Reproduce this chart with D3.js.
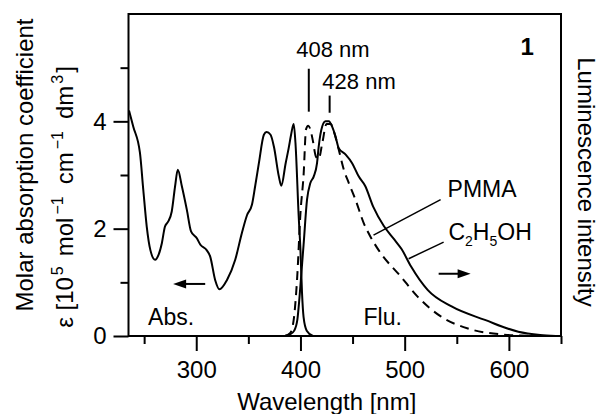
<!DOCTYPE html>
<html>
<head>
<meta charset="utf-8">
<script src="https://cdn.jsdelivr.net/npm/d3@7"></script>
<style>
body { margin: 0; background: #fff; }
svg text { font-family: "Liberation Sans", Arial, sans-serif; fill: #000; }
</style>
</head>
<body>
<svg id="chart" width="601" height="414"></svg>
<script>
// absorption spectrum (left axis, 10^5 mol^-1 cm^-1 dm^3)
var absWl  = [235.5, 239.6, 246, 249.2, 252.5, 256, 260.5, 264, 267, 270, 273, 276.5, 279.7, 282.3, 286.2, 291, 295, 300.6, 304, 310, 313.4, 318.2, 322.3, 329.4, 337.4, 343.8, 348.7, 353.5, 356.6, 360.1, 364.9, 367.5, 371.3, 374.5, 379.3, 381.6, 385.8, 388.7, 391, 393.5, 395.2, 398.3, 400, 401.5, 403, 406, 412];
var absEps = [4.2, 3.9, 3.41, 2.72, 2.04, 1.6, 1.42, 1.52, 1.73, 2.04, 2.13, 2.32, 2.79, 3.1, 2.79, 2.35, 1.95, 1.82, 1.7, 1.6, 1.48, 1.04, 0.87, 1.04, 1.42, 1.92, 2.25, 2.45, 2.8, 3.22, 3.75, 3.8, 3.75, 3.53, 2.97, 2.8, 3.22, 3.5, 3.75, 3.95, 3.6, 2.23, 1.6, 0.8, 0.35, 0.1, 0];

// fluorescence in PMMA (solid)
var pmmaWl  = [385, 390, 394, 397, 399, 401, 403, 406.3, 409.5, 412.7, 415.9, 417.5, 420.8, 424, 427.2, 430.4, 433.6, 436.7, 443.4, 449.6, 456, 462, 470, 480, 490, 497, 506, 522, 545, 577, 609, 630, 645];
var pmmaInt = [0, 0.03, 0.1, 0.3, 0.7, 1.2, 1.7, 2.54, 2.85, 2.97, 3.22, 3.53, 3.9, 4.0, 4.0, 3.9, 3.72, 3.5, 3.38, 3.22, 2.97, 2.8, 2.4, 2.05, 1.8, 1.62, 1.3, 0.86, 0.55, 0.3, 0.08, 0.02, 0];

// fluorescence in C2H5OH (dashed)
var etohWl  = [385, 390, 393.5, 396.7, 400, 403.1, 405.3, 407.5, 409.5, 411.7, 414.9, 417.5, 421, 425, 429, 433, 437, 441.6, 446.4, 452.8, 460.8, 467.2, 475, 496.6, 512.6, 535, 560.7, 592.8, 625];
var etohInt = [0, 0.05, 0.3, 1.04, 2.29, 3.03, 3.85, 3.92, 3.85, 3.66, 3.34, 3.3, 3.6, 3.95, 3.95, 3.75, 3.45, 3.1, 2.85, 2.54, 2.1, 1.85, 1.6, 1.1, 0.73, 0.36, 0.14, 0.03, 0];

var xMajor = [300, 400, 500, 600];
var xMinor = [250, 350, 450, 550, 650];
var yMajor = [0, 2, 4];
var yMinor = [1, 3, 5];

var svg = d3.select("#chart");
var x = d3.scaleLinear().domain([235, 650]).range([128.5, 561]);
var y = d3.scaleLinear().domain([0, 6]).range([336, 14]);

function styleAxis(g) {
	g.select(".domain").remove();
	g.selectAll("line").attr("stroke", "#000").attr("stroke-width", 2);
	g.selectAll("text").attr("font-size", 24).attr("fill", "#000");
	g.attr("font-family", null).attr("font-size", null);
}

// x axis, major + minor
svg.append("g")
	.attr("transform", "translate(0," + y(0) + ")")
	.call(d3.axisBottom(x).tickValues(xMajor).tickSize(15).tickPadding(10).tickFormat(d3.format("d")))
	.call(styleAxis);
svg.append("g")
	.attr("transform", "translate(0," + y(0) + ")")
	.call(d3.axisBottom(x).tickValues(xMinor).tickSize(8).tickFormat(""))
	.call(styleAxis);

// y axis, major + minor
svg.append("g")
	.attr("transform", "translate(" + x(235) + ",0)")
	.call(d3.axisLeft(y).tickValues(yMajor).tickSize(15).tickPadding(7).tickFormat(d3.format("d")))
	.call(styleAxis);
svg.append("g")
	.attr("transform", "translate(" + x(235) + ",0)")
	.call(d3.axisLeft(y).tickValues(yMinor).tickSize(8).tickFormat(""))
	.call(styleAxis);

// frame
svg.append("rect")
	.attr("x", x(235)).attr("y", y(6))
	.attr("width", x(650) - x(235)).attr("height", y(0) - y(6))
	.attr("fill", "none").attr("stroke", "#000").attr("stroke-width", 2);

function series(wl, val) {
	return wl.map(function (d, i) { return [d, val[i]]; });
}

var line = d3.line()
	.x(function (d) { return x(d[0]); })
	.y(function (d) { return y(d[1]); })
	.curve(d3.curveMonotoneX);

svg.append("path").datum(series(absWl, absEps))
	.attr("d", line).attr("fill", "none").attr("stroke", "#000").attr("stroke-width", 2);
svg.append("path").datum(series(etohWl, etohInt))
	.attr("d", line).attr("fill", "none").attr("stroke", "#000").attr("stroke-width", 2)
	.attr("stroke-dasharray", "9,6");
svg.append("path").datum(series(pmmaWl, pmmaInt))
	.attr("d", line).attr("fill", "none").attr("stroke", "#000").attr("stroke-width", 2);

// peak markers
var markers = [
	{ wl: 408, y0: 4.18, y1: 4.98, label: "408 nm", lx: 396, ly: 5.2 },
	{ wl: 428, y0: 4.16, y1: 4.48, label: "428 nm", lx: 421, ly: 4.6 }
];
markers.forEach(function (m) {
	svg.append("line")
		.attr("x1", x(m.wl)).attr("x2", x(m.wl))
		.attr("y1", y(m.y0)).attr("y2", y(m.y1))
		.attr("stroke", "#000").attr("stroke-width", 2);
	svg.append("text")
		.attr("x", x(m.lx)).attr("y", y(m.ly))
		.attr("font-size", 22)
		.text(m.label);
});

// leader lines
var leaders = [
	[534.5, 2.54, 470.1, 1.88],
	[537.4, 1.75, 503.8, 1.44]
];
leaders.forEach(function (l) {
	svg.append("line")
		.attr("x1", x(l[0])).attr("y1", y(l[1]))
		.attr("x2", x(l[2])).attr("y2", y(l[3]))
		.attr("stroke", "#000").attr("stroke-width", 1.5);
});

svg.append("text").attr("x", x(541.2)).attr("y", y(2.59)).attr("font-size", 23).text("PMMA");
var et = svg.append("text").attr("x", x(542)).attr("y", y(1.79)).attr("font-size", 23);
et.append("tspan").text("C");
et.append("tspan").attr("font-size", 14).attr("dy", 6).text("2");
et.append("tspan").attr("dy", -6).text("H");
et.append("tspan").attr("font-size", 14).attr("dy", 6).text("5");
et.append("tspan").attr("dy", -6).text("OH");

svg.append("text").attr("x", x(253.8)).attr("y", y(0.205)).attr("font-size", 23).text("Abs.");
svg.append("text").attr("x", x(460.5)).attr("y", y(0.205)).attr("font-size", 23).text("Flu.");
svg.append("text").attr("x", x(624)).attr("y", y(5.24)).attr("font-size", 24)
	.attr("font-weight", "bold").attr("text-anchor", "end").text("1");

// arrows: [from wl, to wl, level]
var arrows = [
	[308.6, 277.8, 0.97],
	[532.6, 563.3, 1.16]
];
arrows.forEach(function (a) {
	var x0 = x(a[0]), x1 = x(a[1]), yy = y(a[2]);
	var dir = x1 > x0 ? 1 : -1;
	svg.append("line")
		.attr("x1", x0).attr("y1", yy).attr("x2", x1 - dir * 8).attr("y2", yy)
		.attr("stroke", "#000").attr("stroke-width", 2);
	svg.append("path")
		.attr("d", "M" + x1 + "," + yy + "L" + (x1 - dir * 13) + "," + (yy - 4.5) + "L" + (x1 - dir * 13) + "," + (yy + 4.5) + "Z")
		.attr("fill", "#000");
});

// axis titles
svg.append("text")
	.attr("x", (x(235) + x(650)) / 2 - 18).attr("y", 410)
	.attr("text-anchor", "middle").attr("font-size", 24)
	.text("Wavelength [nm]");

svg.append("text")
	.attr("transform", "translate(33,165) rotate(-90)")
	.attr("text-anchor", "middle").attr("font-size", 24)
	.text("Molar absorption coefficient");

var yl = svg.append("text")
	.attr("transform", "translate(73,197) rotate(-90)")
	.attr("text-anchor", "middle").attr("font-size", 24);
yl.append("tspan").text("\u03b5 [10");
yl.append("tspan").attr("font-size", 16).attr("dx", 2).attr("dy", -10).text("5");
yl.append("tspan").attr("dx", 10).attr("dy", 10).text("mol");
yl.append("tspan").attr("font-size", 16).attr("dx", 3).attr("dy", -10).text("\u22121");
yl.append("tspan").attr("dx", 12).attr("dy", 10).text("cm");
yl.append("tspan").attr("font-size", 16).attr("dx", 3).attr("dy", -10).text("\u22121");
yl.append("tspan").attr("dx", 12).attr("dy", 10).text("dm");
yl.append("tspan").attr("font-size", 16).attr("dx", 2).attr("dy", -10).text("3");
yl.append("tspan").attr("dx", 2).attr("dy", 10).text("]");

svg.append("text")
	.attr("transform", "translate(578,182) rotate(90)")
	.attr("text-anchor", "middle").attr("font-size", 24)
	.text("Luminescence intensity");
</script>
</body>
</html>
